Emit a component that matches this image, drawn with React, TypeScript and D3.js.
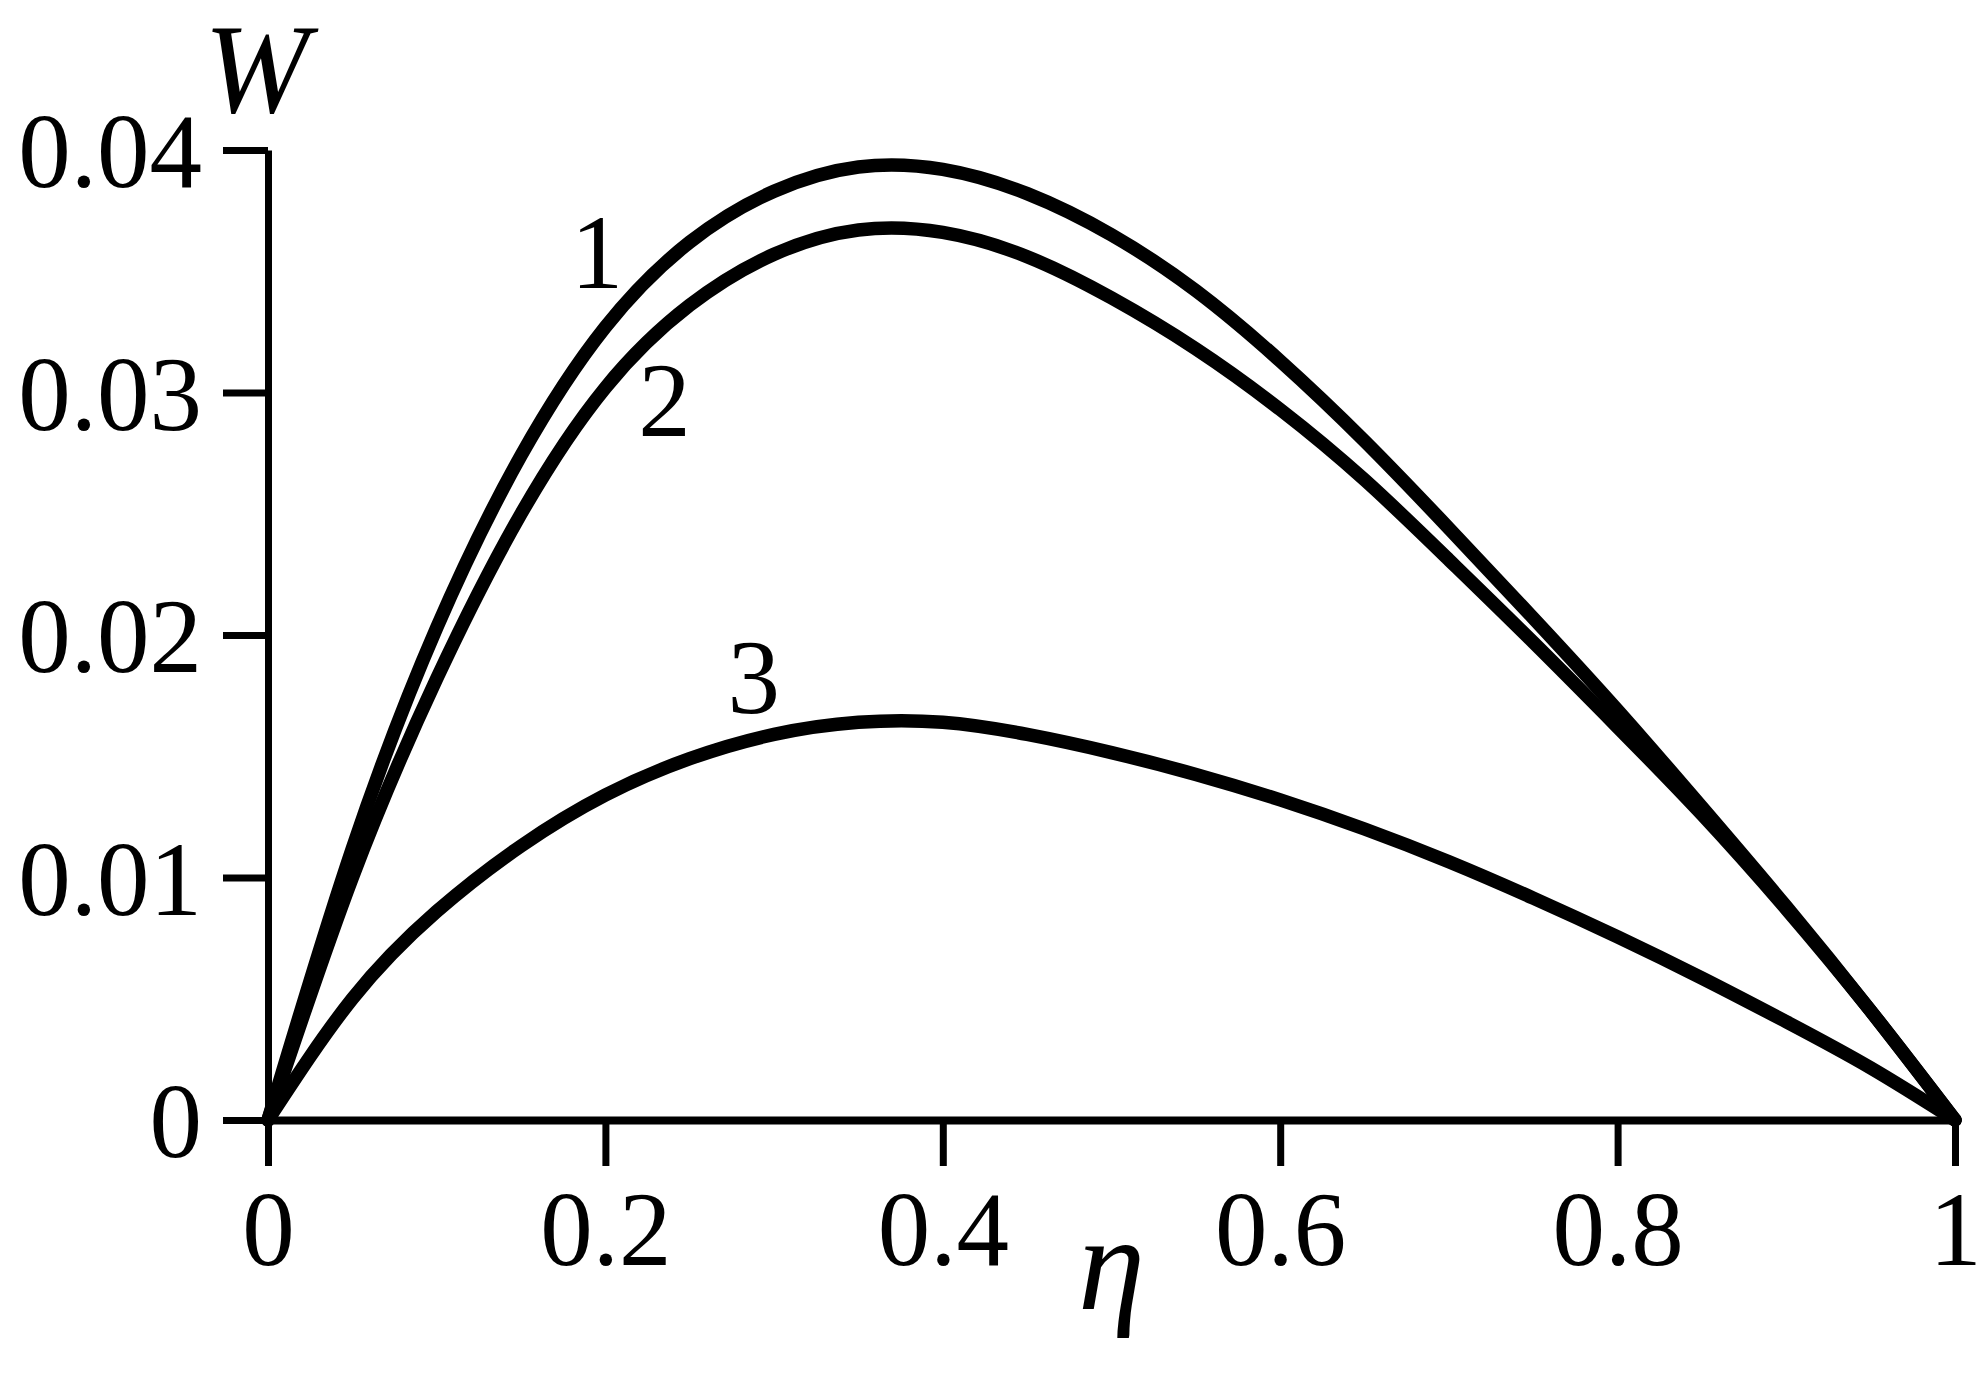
import * as d3 from "d3";
import React, { useEffect, useRef } from "react";

// η grid shared by the three curves
const eta = [
  0, 0.05, 0.1, 0.15, 0.2, 0.25, 0.3, 0.35, 0.4, 0.45, 0.5, 0.55, 0.6, 0.65,
  0.7, 0.75, 0.8, 0.85, 0.9, 0.95, 1,
];

const curve1 = [
  0, 0.0112, 0.0203, 0.0274, 0.0327, 0.0362, 0.0383, 0.0393, 0.0392, 0.0382,
  0.0365, 0.0342, 0.0313, 0.028, 0.0244, 0.0207, 0.0169, 0.0129, 0.0088,
  0.0045, 0,
];

const curve2 = [
  0, 0.01, 0.0182, 0.025, 0.0302, 0.0336, 0.0357, 0.0367, 0.0366, 0.0356,
  0.0339, 0.0318, 0.0293, 0.0264, 0.0231, 0.0197, 0.0162, 0.0126, 0.0087,
  0.0045, 0,
];

const curve3 = [
  0, 0.005, 0.0086, 0.0113, 0.0134, 0.0149, 0.0159, 0.0164, 0.0164, 0.0159,
  0.01515, 0.01425, 0.0132, 0.012, 0.01065, 0.00915, 0.00755, 0.00585,
  0.00405, 0.00215, 0,
];

const seriesNames = ["1", "2", "3"];
// where each number label sits (η, W)
const labelEta = [0.195, 0.235, 0.288];
const labelW = [0.0343, 0.0282, 0.0168];

const xTicks = [0, 0.2, 0.4, 0.6, 0.8, 1];
const yTicks = [0, 0.01, 0.02, 0.03, 0.04];

const FONT = "'Liberation Serif', 'Times New Roman', serif";

const App: React.FC = () => {
  const ref = useRef<SVGSVGElement>(null);

  useEffect(() => {
    const svg = d3.select(ref.current).html("");

    const x = d3.scaleLinear().domain([0, 1]).range([268, 1955]);
    const y = d3.scaleLinear().domain([0, 0.04]).range([1120, 150]);

    // Y axis
    const gy = svg
      .append("g")
      .attr("transform", `translate(${x(0)},0)`)
      .call(
        d3
          .axisLeft(y)
          .tickValues(yTicks)
          .tickSize(45)
          .tickSizeOuter(0)
          .tickPadding(21)
          .tickFormat((d) => (d === 0 ? "0" : d3.format(".2f")(d as number)))
      );

    // X axis
    const gx = svg
      .append("g")
      .attr("transform", `translate(0,${y(0)})`)
      .call(
        d3
          .axisBottom(x)
          .tickValues(xTicks)
          .tickSize(46)
          .tickSizeOuter(0)
          .tickPadding(24)
          .tickFormat((d) => d3.format("~g")(d as number))
      );

    [gx, gy].forEach((g) => {
      g.select(".domain").attr("stroke", "#000").attr("stroke-width", 7);
      g.selectAll(".tick line").attr("stroke", "#000").attr("stroke-width", 7);
      g.selectAll(".tick text")
        .attr("fill", "#000")
        .attr("font-family", FONT)
        .attr("font-size", 105);
    });
    gx.select(".domain").attr("stroke-width", 8);
    gy.selectAll(".tick text").attr("dy", "0.35em");

    // curves
    const line = d3
      .line<number>()
      .x((_, i) => x(eta[i]))
      .y((d) => y(d))
      .curve(d3.curveNatural);

    [curve1, curve2, curve3].forEach((vals) => {
      svg
        .append("path")
        .attr("d", line(vals))
        .attr("fill", "none")
        .attr("stroke", "#000")
        .attr("stroke-width", 13.5)
        .attr("stroke-linecap", "round")
        .attr("stroke-linejoin", "round");
    });

    // curve numbers
    seriesNames.forEach((name, i) => {
      svg
        .append("text")
        .attr("x", x(labelEta[i]))
        .attr("y", y(labelW[i]))
        .attr("text-anchor", "middle")
        .attr("font-family", FONT)
        .attr("font-size", 105)
        .attr("fill", "#000")
        .text(name);
    });

    // axis titles
    svg
      .append("text")
      .attr("x", 204)
      .attr("y", 112)
      .attr("font-family", FONT)
      .attr("font-style", "italic")
      .attr("font-size", 126)
      .attr("fill", "#000")
      .text("W");

    svg
      .append("text")
      .attr("x", x(0.5))
      .attr("y", 1309)
      .attr("text-anchor", "middle")
      .attr("font-family", FONT)
      .attr("font-style", "italic")
      .attr("font-size", 135)
      .attr("fill", "#000")
      .text("η");
  }, []);

  return (
    <svg
      ref={ref}
      width={1983}
      height={1382}
      style={{ position: "absolute", left: 0, top: 0, background: "#fff" }}
    ></svg>
  );
};

export default App;
